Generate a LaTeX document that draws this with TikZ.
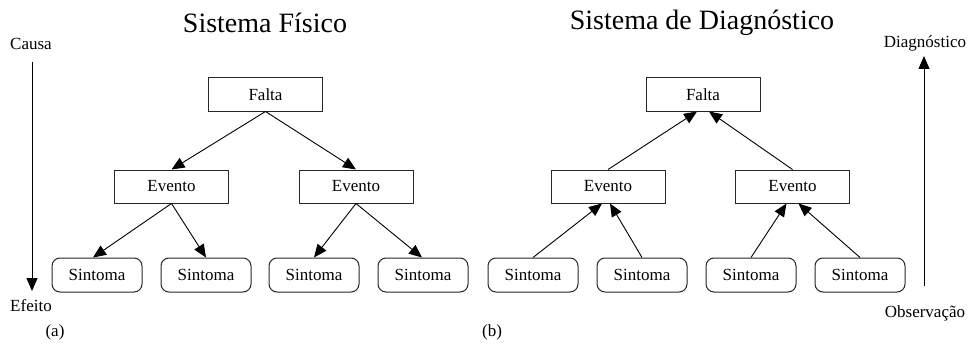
\documentclass[tikz,border=0pt]{standalone}
\usepackage{fontspec}
\setmainfont{Liberation Serif}
\usetikzlibrary{arrows.meta}
\begin{document}
\begin{tikzpicture}[x=1pt,y=-1pt,
  every node/.style={inner sep=0pt,font=\fontsize{17}{19}\selectfont},
  sqbox/.style={draw=black!85,line width=1pt,minimum width=114pt,minimum height=33pt},
  rbox/.style={draw=black!85,line width=1pt,rounded corners=8pt,minimum width=90pt,minimum height=34pt},
  title/.style={font=\fontsize{28}{32}\selectfont},
  conn/.style={line width=0.9pt,-{Triangle[length=13pt,width=11pt]}}]
\useasboundingbox (0,0) rectangle (969,345);

% titles
\node[title] (t1) at (265,23) {Sistema Físico};
\node[title] (t2) at (702,23) {Sistema de Diagnóstico};

% side labels and axis arrows
\node (causa) at (31,44) {Causa};
\node (efeito) at (31,306) {Efeito};
\node (diag) at (925,43) {Diagnóstico};
\node (obs) at (925,313) {Observação};
\node (la) at (55,332) {(a)};
\node (lb) at (492,332) {(b)};
\coordinate (ca) at (32,62);
\coordinate (cb) at (32,291);
\coordinate (da) at (924,286);
\coordinate (db) at (924,56);
\draw[conn] (ca) -- (cb);
\draw[conn] (da) -- (db);

% physical system tree
\node[sqbox] (f1) at (265.5,94.5) {Falta};
\node[sqbox] (e1) at (171.5,186.5) {Evento};
\node[sqbox] (e2) at (356,186.5) {Evento};
\node[rbox] (s1) at (97,275) {Sintoma};
\node[rbox] (s2) at (206,275) {Sintoma};
\node[rbox] (s3) at (314,275) {Sintoma};
\node[rbox] (s4) at (423,275) {Sintoma};
\draw[conn] (f1.south) -- (e1.north);
\draw[conn] (f1.south) -- (e2.north);
\draw[conn] (e1.south) -- ([xshift=-4pt]s1.north);
\draw[conn] (e1.south) -- (s2.north);
\draw[conn] (e2.south) -- (s3.north);
\draw[conn] (e2.south) -- ([xshift=-1pt]s4.north);

% diagnostic system tree
\node[sqbox] (f2) at (703,94.5) {Falta};
\node[sqbox] (e3) at (608,186.5) {Evento};
\node[sqbox] (e4) at (792.5,186.5) {Evento};
\node[rbox] (s5) at (533,275) {Sintoma};
\node[rbox] (s6) at (642,275) {Sintoma};
\node[rbox] (s7) at (751,275) {Sintoma};
\node[rbox] (s8) at (860,275) {Sintoma};
\draw[conn] (e3.north) -- ([xshift=-6pt]f2.south);
\draw[conn] (e4.north) -- ([xshift=6pt]f2.south);
\draw[conn] (s5.north) -- ([xshift=-6pt]e3.south);
\draw[conn] (s6.north) -- ([xshift=2pt]e3.south);
\draw[conn] (s7.north) -- ([xshift=-6pt]e4.south);
\draw[conn] (s8.north) -- ([xshift=6pt]e4.south);
\end{tikzpicture}
\end{document}
